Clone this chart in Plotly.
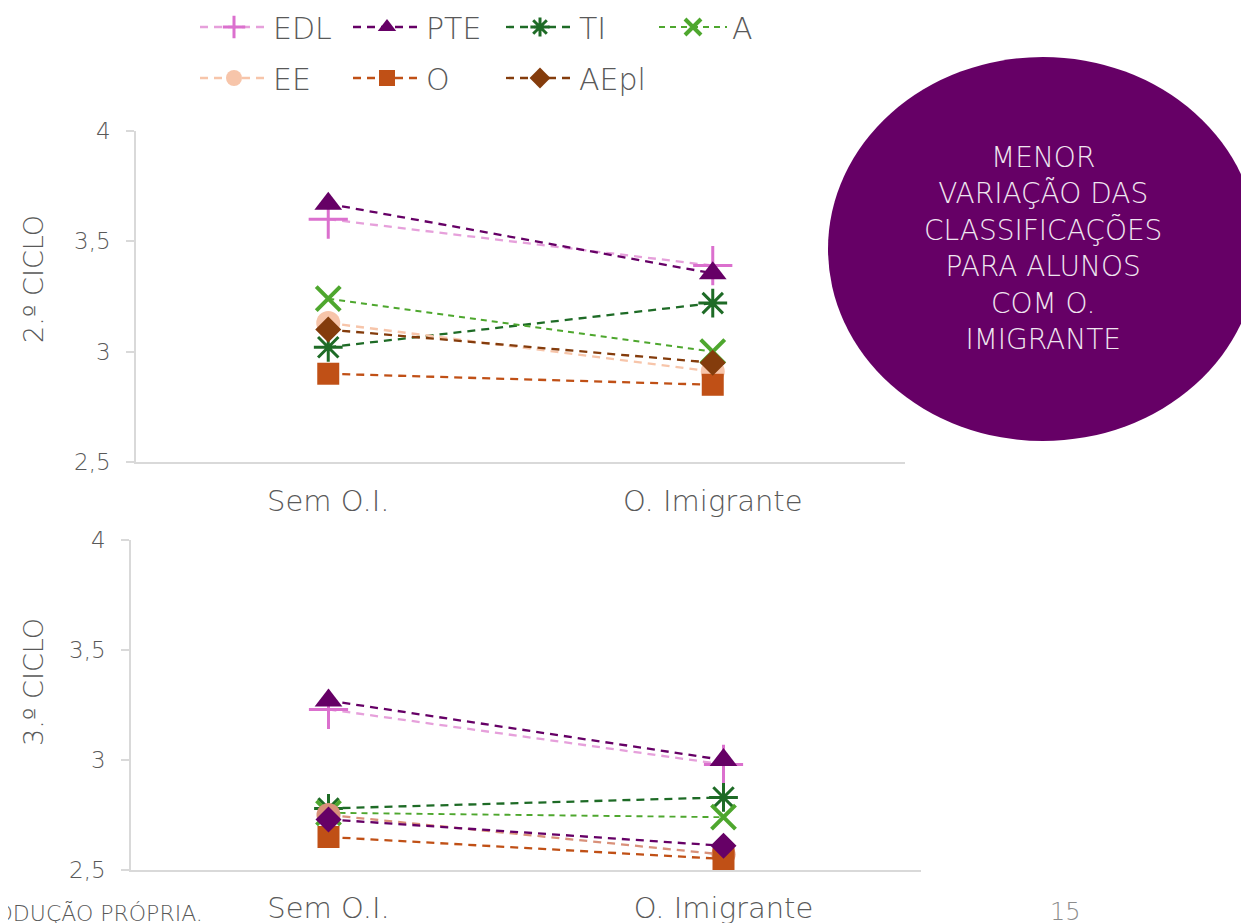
import plotly.graph_objects as go

categories = ["Sem O.I.", "O. Imigrante"]
series_names = ["EDL", "PTE", "TI", "A", "EE", "O", "AEpl"]

# 2.º ciclo
edl_2 = [3.60, 3.39]
pte_2 = [3.67, 3.355]
ti_2 = [3.02, 3.22]
a_2 = [3.24, 3.00]
ee_2 = [3.13, 2.91]
o_2 = [2.90, 2.85]
aepl_2 = [3.10, 2.95]

# 3.º ciclo
edl_3 = [3.23, 2.98]
pte_3 = [3.27, 3.00]
ti_3 = [2.78, 2.83]
a_3 = [2.76, 2.74]
ee_3 = [2.75, 2.57]
o_3 = [2.65, 2.55]
aepl_3 = [2.73, 2.61]

OFF = 8  # page body margin
W, H = 1249 - OFF, 923 - OFF
FONT = "DejaVu Sans"
WT = 300
GRAY = "#595959"
AX = "#D9D9D9"

styles_2 = {
    "EDL": ("#E6A0DB", "#DB70CE", "cross-thin", 28, 3, "8px,6px", 2.3),
    "PTE": ("#660066", "#660066", "triangle-up", 24, 0, "8px,6px", 2.3),
    "TI": ("#1E6B26", "#1E6B26", "asterisk-open", 24, 3, "8px,6px", 2.3),
    "A": ("#4EA72E", "#4EA72E", "x-thin", 24, 4, "6px,5px", 1.9),
    "EE": ("#F7C5AA", "#F7C5AA", "circle", 24, 0, "8px,6px", 2.3),
    "O": ("#C05016", "#C05016", "square", 22, 0, "8px,6px", 2.3),
    "AEpl": ("#843C0C", "#843C0C", "diamond", 20, 0, "8px,6px", 2.3),
}
styles_3 = dict(styles_2)
styles_3["EE"] = ("#D9917A", "#D9917A", "circle", 24, 0, "8px,6px", 2.3)
styles_3["AEpl"] = ("#660066", "#660066", "diamond", 20, 0, "8px,6px", 2.3)

data_2 = [edl_2, pte_2, ti_2, a_2, ee_2, o_2, aepl_2]
data_3 = [edl_3, pte_3, ti_3, a_3, ee_3, o_3, aepl_3]

fig = go.Figure()

def add_traces(data, styles, xa, ya, show):
    for i, (name, vals) in enumerate(zip(series_names, data)):
        lc, mc, sym, sz, mlw, dash, lw = styles[name]
        fig.add_trace(go.Scatter(
            x=categories, y=vals, name=name, mode="lines+markers",
            xaxis=xa, yaxis=ya,
            line=dict(color=lc, width=lw, dash=dash),
            marker=dict(symbol=sym, size=sz, color=mc,
                        line=dict(color=mc, width=mlw)),
            showlegend=show,
            legend="legend" if i < 4 else "legend2",
        ))

add_traces(data_2, styles_2, "x", "y", True)
add_traces(data_3, styles_3, "x2", "y2", False)

def px_x(p):
    return (p - OFF) / W

def px_y(p):
    return 1 - (p - OFF) / H

def f(size, color=GRAY):
    return dict(family=FONT, size=size, color=color, weight=WT)

base_axis = dict(showgrid=False, zeroline=False, showline=True,
                 linecolor=AX, linewidth=1.5, automargin=False)
xfont = f(29)
yfont = f(23)

legend_common = dict(orientation="h", xanchor="left", yanchor="middle",
                     entrywidth=70, entrywidthmode="pixels", itemwidth=68,
                     font=f(30), bgcolor="rgba(0,0,0,0)")

fig.update_layout(
    width=W, height=H,
    margin=dict(l=0, r=0, t=0, b=0, autoexpand=False),
    paper_bgcolor="white", plot_bgcolor="white",
    separators=", ",
    font=dict(family=FONT, color=GRAY),
    xaxis=dict(domain=[px_x(136), px_x(905)], type="category",
               range=[-0.5, 1.5], anchor="y", ticks="",
               ticklabelstandoff=12, tickfont=xfont, **base_axis),
    yaxis=dict(domain=[px_y(462), px_y(131)], range=[2.5, 4], dtick=0.5,
               anchor="x", ticks="outside", ticklen=8, tickcolor=AX,
               tickwidth=1.5, ticklabelstandoff=11, tickfont=yfont,
               **base_axis),
    xaxis2=dict(domain=[px_x(131), px_x(921)], type="category",
                range=[-0.5, 1.5], anchor="y2", ticks="",
                ticklabelstandoff=11, tickfont=xfont, **base_axis),
    yaxis2=dict(domain=[px_y(870), px_y(540)], range=[2.5, 4], dtick=0.5,
                anchor="x2", ticks="outside", ticklen=8, tickcolor=AX,
                tickwidth=1.5, ticklabelstandoff=11, tickfont=yfont,
                **base_axis),
    legend=dict(x=px_x(195), y=px_y(27), **legend_common),
    legend2=dict(x=px_x(195), y=px_y(78), **legend_common),
)

fig.add_shape(type="circle", xref="paper", yref="paper",
              x0=px_x(828), x1=px_x(1258), y0=px_y(441), y1=px_y(57),
              fillcolor="#660066", line=dict(width=0), layer="above")
fig.add_annotation(xref="paper", yref="paper", x=px_x(1043), y=px_y(249),
                   xanchor="center", yanchor="middle", showarrow=False,
                   text="MENOR<br>VARIAÇÃO DAS<br>CLASSIFICAÇÕES<br>PARA ALUNOS<br>COM O.<br>IMIGRANTE",
                   font=f(28, "#F0E6F0"), align="center")

fig.add_annotation(xref="paper", yref="paper", x=px_x(33), y=px_y(279),
                   xanchor="center", yanchor="middle",
                   text="2.º CICLO", textangle=-90, showarrow=False,
                   font=f(27))
fig.add_annotation(xref="paper", yref="paper", x=px_x(33), y=px_y(682),
                   xanchor="center", yanchor="middle",
                   text="3.º CICLO", textangle=-90, showarrow=False,
                   font=f(27))

fig.add_annotation(xref="paper", yref="paper", x=px_x(205), y=px_y(913),
                   xanchor="right", yanchor="middle",
                   text="PRODUÇÃO PRÓPRIA.", showarrow=False,
                   font=f(22))
fig.add_annotation(xref="paper", yref="paper", x=px_x(1065), y=px_y(912),
                   xanchor="center", yanchor="middle",
                   text="15", showarrow=False,
                   font=f(24, "#8C8C8C"))

fig.write_html("out.html")
